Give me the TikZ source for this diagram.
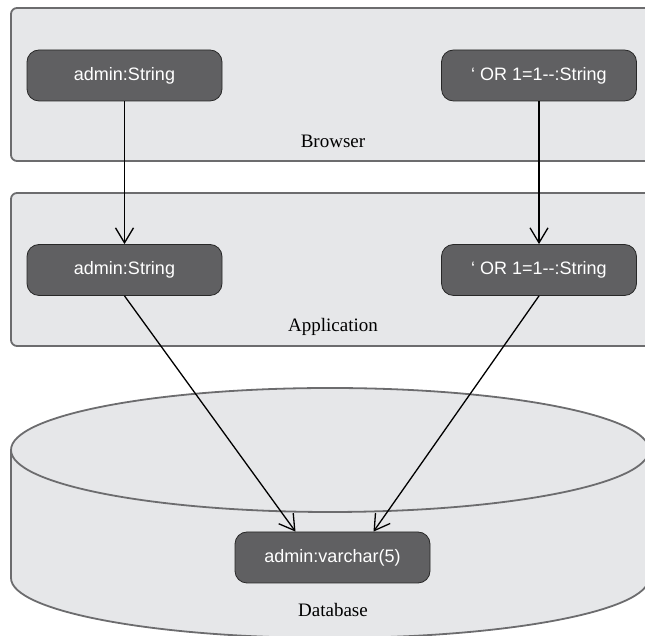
\documentclass[tikz,border=0pt]{standalone}
\usepackage{fontspec}
\setmainfont{Liberation Serif}
\newfontfamily\objfont{Liberation Sans}
\usetikzlibrary{arrows.meta, positioning}
\definecolor{pane}{RGB}{230,231,233}
\definecolor{rim}{RGB}{108,108,110}
\definecolor{obj}{RGB}{96,96,98}
\definecolor{objrim}{RGB}{40,40,40}

\begin{document}
\begin{tikzpicture}[
    x=1pt, y=1pt,
    >={Straight Barb[length=15pt,width=18pt]},
    layer/.style={draw=rim, fill=pane, line width=1.8pt, rounded corners=6pt},
    obj/.style={rectangle, rounded corners=12pt, draw=objrim, fill=obj,
      minimum width=195pt, minimum height=51pt, line width=0.8pt,
      text=white, font=\objfont\fontsize{18}{20}\selectfont},
    tier/.style={font=\fontsize{19}{21}\selectfont},
    flow/.style={->, line width=1.3pt}
  ]
  \useasboundingbox (0,0) rectangle (645,636);
  \clip (0,0) rectangle (645,636);

  % tiers
  \draw[layer] (11,628) rectangle (680,475);
  \draw[layer] (11,443) rectangle (680,290);
  \draw[layer, rounded corners=0pt] (11,186) -- (11,58)
    arc[start angle=180, end angle=360, x radius=319pt, y radius=60pt]
    -- (649,186) -- cycle;
  \draw[layer, rounded corners=0pt] (330,186) ellipse[x radius=319pt, y radius=62pt];

  \node[tier] (browser) at (333,495) {Browser};
  \node[tier] (app) at (333,309) {Application};
  \node[tier] (db) at (333,26) {Database};

  % values
  \node[obj] (b1) at (124.5,560.5) {admin:String};
  \node[obj] (b2) at (539,560.5) {‘ OR 1=1-{}-:String};
  \node[obj] (a1) at (124.5,366) {admin:String};
  \node[obj] (a2) at (539,366) {‘ OR 1=1-{}-:String};
  \node[obj] (d1) at (332.5,78.5) {admin:varchar(5)};

  \foreach \a/\b in {b1/a1, b2/a2} {
    \draw[flow] (\a.south) -- (\b.north);
  }
  \draw[flow] (a1.south) -- ([xshift=-37pt]d1.north);
  \draw[flow] (a2.south) -- ([xshift=41pt]d1.north);
\end{tikzpicture}
\end{document}
